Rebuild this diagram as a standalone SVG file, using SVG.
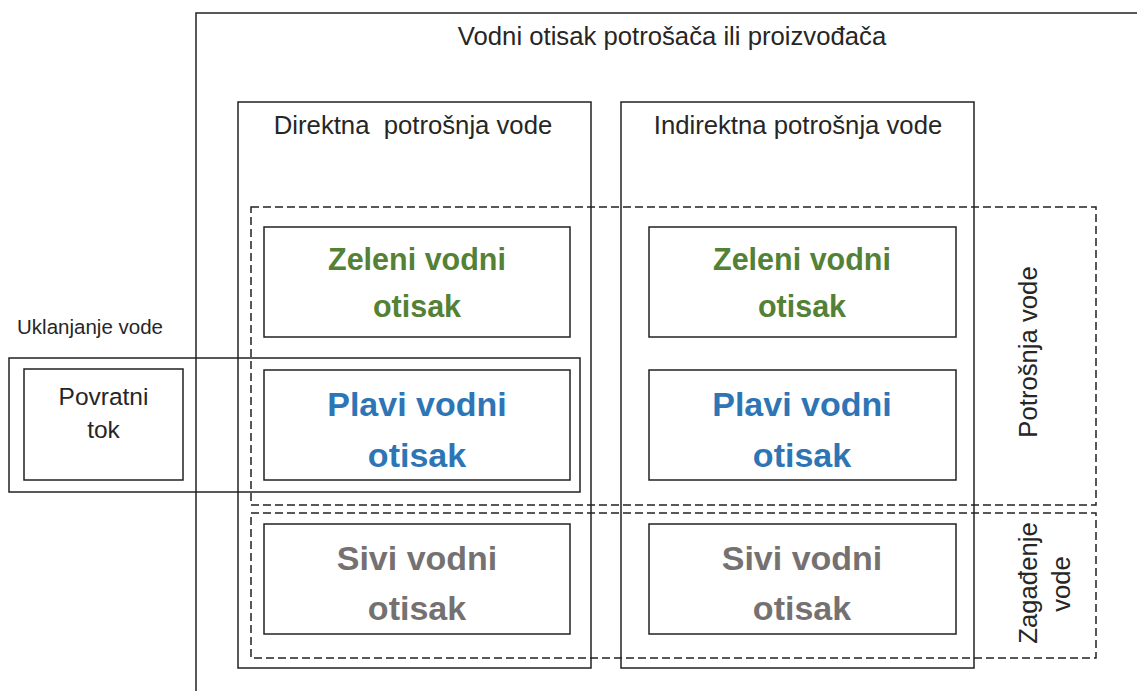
<svg xmlns="http://www.w3.org/2000/svg" width="1137" height="691" viewBox="0 0 1137 691">
<style>
.box{fill:none;stroke:#222;stroke-width:1.5}
.dash{fill:none;stroke:#222;stroke-width:1.5;stroke-dasharray:8 4}
.lbl{font-family:"Liberation Sans",Arial,sans-serif;font-size:25.7px;fill:#262626;text-anchor:middle}
.big{font-family:"Liberation Sans",Arial,sans-serif;font-weight:bold;text-anchor:middle}
.g{fill:#538135;font-size:30.5px}
.b{fill:#2E75B6;font-size:34px}
.s{fill:#767171;font-size:34px}
</style>
<rect width="1137" height="691" fill="#fff"/>
<g id="frame">
<path class="box" d="M196,691 V13 H1137"/>
<text class="lbl" x="672" y="45">Vodni otisak potrošača ili proizvođača</text>
</g>
<g id="col-direktna">
<rect class="box" x="238" y="102" width="353" height="566"/>
<text class="lbl" x="413" y="134" style="white-space:pre">Direktna  potrošnja vode</text>
</g>
<g id="col-indirektna">
<rect class="box" x="621" y="102" width="353" height="566"/>
<text class="lbl" x="798" y="134">Indirektna potrošnja vode</text>
</g>
<g id="zone-potrosnja">
<rect class="dash" x="251" y="207" width="845" height="298"/>
<text class="lbl" transform="translate(1037,352) rotate(-90)">Potrošnja vode</text>
</g>
<g id="zone-zagadjenje">
<rect class="dash" x="251" y="513" width="845" height="145"/>
<text class="lbl" transform="translate(1037,583) rotate(-90)">Zagađenje</text>
<text class="lbl" transform="translate(1070,584) rotate(-90)">vode</text>
</g>
<g id="uklanjanje">
<rect class="box" x="9" y="358" width="571" height="134"/>
<text class="lbl" x="90" y="334" style="font-size:20.5px">Uklanjanje vode</text>
</g>
<g id="povratni-tok">
<rect class="box" x="24" y="369" width="159" height="111"/>
<text class="lbl" x="103.5" y="405" style="font-size:24.5px">Povratni</text>
<text class="lbl" x="103.5" y="438" style="font-size:24.5px">tok</text>
</g>
<g id="zeleni-direktni">
<rect class="box" x="264" y="227" width="306" height="110"/>
<text class="big g" x="417" y="270">Zeleni vodni</text>
<text class="big g" x="417" y="317">otisak</text>
</g>
<g id="plavi-direktni">
<rect class="box" x="264" y="370" width="306" height="110"/>
<text class="big b" x="417" y="416">Plavi vodni</text>
<text class="big b" x="417" y="467">otisak</text>
</g>
<g id="sivi-direktni">
<rect class="box" x="264" y="524" width="306" height="110"/>
<text class="big s" x="417" y="570">Sivi vodni</text>
<text class="big s" x="417" y="620">otisak</text>
</g>
<g id="zeleni-indirektni">
<rect class="box" x="649" y="227" width="307" height="110"/>
<text class="big g" x="802" y="270">Zeleni vodni</text>
<text class="big g" x="802" y="317">otisak</text>
</g>
<g id="plavi-indirektni">
<rect class="box" x="649" y="370" width="307" height="110"/>
<text class="big b" x="802" y="416">Plavi vodni</text>
<text class="big b" x="802" y="467">otisak</text>
</g>
<g id="sivi-indirektni">
<rect class="box" x="649" y="524" width="307" height="110"/>
<text class="big s" x="802" y="570">Sivi vodni</text>
<text class="big s" x="802" y="620">otisak</text>
</g>
<g id="connectors"></g>
</svg>
